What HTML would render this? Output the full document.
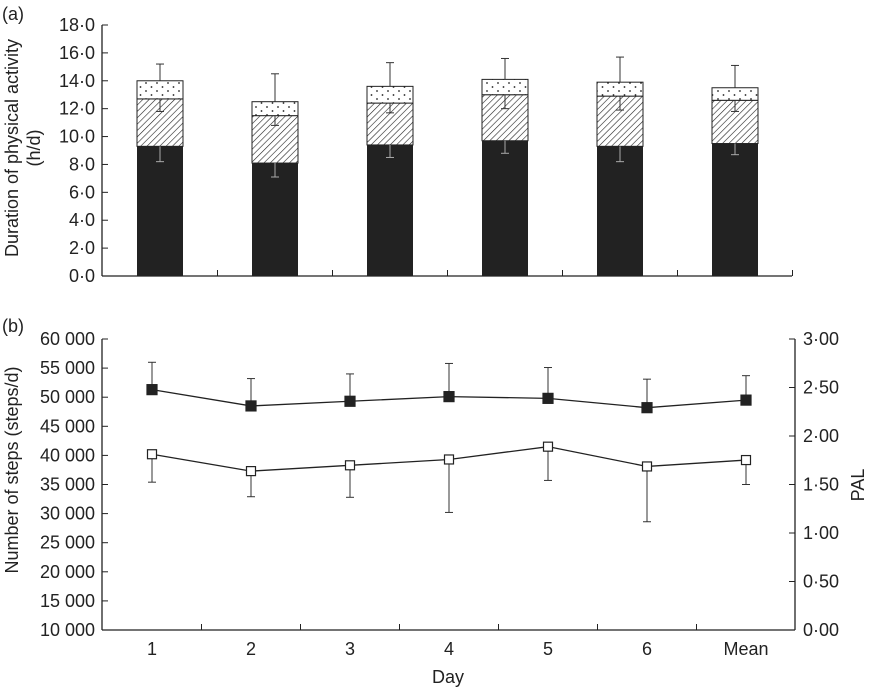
<!DOCTYPE html>
<html><head><meta charset="utf-8"><style>
body{margin:0;background:#fff}
svg text{font-family:"Liberation Sans",Arial,sans-serif;fill:#222}
</style></head><body>
<svg id="c" width="876" height="689" viewBox="0 0 876 689" xmlns="http://www.w3.org/2000/svg">
<defs>
<pattern id="hatch" width="4.5" height="4.5" patternUnits="userSpaceOnUse" patternTransform="rotate(45)"><rect width="4.5" height="4.5" fill="#fff"/><line x1="0" y1="0" x2="0" y2="4.5" stroke="#222" stroke-width="1.2"/></pattern>
<pattern id="dots" width="11" height="8" patternUnits="userSpaceOnUse"><rect width="11" height="8" fill="#fff"/><circle cx="3" cy="3" r="0.9" fill="#222"/><circle cx="8.5" cy="7" r="0.9" fill="#222"/></pattern>
</defs>
<g id="topg"></g><g id="botg"></g>
</svg>
<script>
const days=["1","2","3","4","5","6","Mean"];
const blackVals=[9.3,8.1,9.4,9.7,9.3,9.5];
const hatchTop=[12.7,11.5,12.4,13.0,12.9,12.6];
const dotTop=[14.0,12.5,13.6,14.1,13.9,13.5];
const blackErrLow=[8.2,7.1,8.5,8.8,8.2,8.7];
const hatchErrLow=[11.8,10.8,11.7,12.0,11.9,11.8];
const dotErrHigh=[15.2,14.5,15.3,15.6,15.7,15.1];
const topTicks=["0·0","2·0","4·0","6·0","8·0","10·0","12·0","14·0","16·0","18·0"];
const stepsFilled=[51300,48500,49300,50100,49800,48200,49500];
const stepsFilledErr=[56000,53200,54000,55800,55100,53100,53700];
const stepsOpen=[40200,37300,38300,39300,41500,38100,39200];
const stepsOpenErr=[35400,32900,32800,30200,35700,28600,35000];
const leftTicks=["10 000","15 000","20 000","25 000","30 000","35 000","40 000","45 000","50 000","55 000","60 000"];
const palTicks=["0·00","0·50","1·00","1·50","2·00","2·50","3·00"];

const NS="http://www.w3.org/2000/svg";
function mk(p,tag,a,txt){const e=document.createElementNS(NS,tag);for(const k in a)e.setAttribute(k,a[k]);if(txt!==undefined)e.textContent=txt;p.appendChild(e);return e;}
const topG=document.getElementById('topg'),botG=document.getElementById('botg');
const ty=v=>276-v*(251/18), tx=i=>160+i*115;
let e;
e=mk(topG,'line',{x1:102,y1:25,x2:102,y2:276,stroke:'#222','stroke-width':1.3});


e=mk(topG,'line',{x1:102,y1:276,x2:792,y2:276,stroke:'#222','stroke-width':1.3});


topTicks.forEach((t,i)=>{const y=ty(i*2);mk(topG,'line',{x1:102,y1:y,x2:108,y2:y,stroke:'#222'});
 e=mk(topG,'text',{x:95,y:y+6,'text-anchor':'end','font-size':18},t);
 
 });
for(let i=0;i<6;i++){mk(topG,'line',{x1:tx(i)+57.5,y1:276,x2:tx(i)+57.5,y2:270,stroke:'#222'});}
e=mk(topG,'text',{x:2,y:20,'font-size':18},'(a)');


e=mk(topG,'text',{transform:'translate(18,148) rotate(-90)','text-anchor':'middle','font-size':18},'Duration of physical activity');


e=mk(topG,'text',{transform:'translate(40,148) rotate(-90)','text-anchor':'middle','font-size':18},'(h/d)');


blackVals.forEach((b,i)=>{const x=tx(i)-23,w=46;
 e=mk(topG,'rect',{x:x,y:ty(b),width:w,height:276-ty(b),fill:'#222'});
 
 
 e=mk(topG,'rect',{x:x,y:ty(hatchTop[i]),width:w,height:ty(b)-ty(hatchTop[i]),fill:'url(#hatch)',stroke:'#222'});
 
 
 e=mk(topG,'rect',{x:x,y:ty(dotTop[i]),width:w,height:ty(hatchTop[i])-ty(dotTop[i]),fill:'url(#dots)',stroke:'#222'});
 
 
 const c=tx(i);
 [[b,blackErrLow[i],'#aaa'],[hatchTop[i],hatchErrLow[i],'#333'],[dotTop[i],dotErrHigh[i],'#333']].forEach(([a,z,col])=>{
  mk(topG,'line',{x1:c,y1:ty(a),x2:c,y2:ty(z),stroke:col});mk(topG,'line',{x1:c-4,y1:ty(z),x2:c+4,y2:ty(z),stroke:col});});
});
const by=v=>630-(v-10000)*(291/50000), bx=i=>152+i*99;
e=mk(botG,'line',{x1:102,y1:339,x2:102,y2:630,stroke:'#222','stroke-width':1.3});


e=mk(botG,'line',{x1:795,y1:339,x2:795,y2:630,stroke:'#222','stroke-width':1.3});


e=mk(botG,'line',{x1:102,y1:630,x2:795,y2:630,stroke:'#222','stroke-width':1.3});


leftTicks.forEach((t,i)=>{const y=by(10000+i*5000);mk(botG,'line',{x1:102,y1:y,x2:108,y2:y,stroke:'#222'});
 e=mk(botG,'text',{x:95,y:y+6,'text-anchor':'end','font-size':18},t);
 
 });
palTicks.forEach((t,i)=>{const y=630-i*291/6;mk(botG,'line',{x1:789,y1:y,x2:795,y2:y,stroke:'#222'});
 e=mk(botG,'text',{x:803,y:y+6,'font-size':18},t);
 
 });
days.forEach((d,i)=>{if(i<6)mk(botG,'line',{x1:bx(i)+49.5,y1:630,x2:bx(i)+49.5,y2:624,stroke:'#222'});
 e=mk(botG,'text',{x:bx(i),y:655,'text-anchor':'middle','font-size':18},d);
 
 });
e=mk(botG,'text',{x:448,y:683,'text-anchor':'middle','font-size':18},'Day');


e=mk(botG,'text',{x:2,y:332,'font-size':18},'(b)');


e=mk(botG,'text',{transform:'translate(18,470) rotate(-90)','text-anchor':'middle','font-size':18},'Number of steps (steps/d)');


e=mk(botG,'text',{transform:'translate(864,485) rotate(-90)','text-anchor':'middle','font-size':18},'PAL');


function series(vals,errs,filled,name){
 vals.forEach((v,i)=>{const c=bx(i);mk(botG,'line',{x1:c,y1:by(v),x2:c,y2:by(errs[i]),stroke:'#333'});mk(botG,'line',{x1:c-4,y1:by(errs[i]),x2:c+4,y2:by(errs[i]),stroke:'#333'});});
 e=mk(botG,'polyline',{points:vals.map((v,i)=>bx(i)+','+by(v)).join(' '),fill:'none',stroke:'#222','stroke-width':1.3});
 
 
 vals.forEach((v,i)=>{const s=filled?10:9;e=mk(botG,'rect',{x:bx(i)-s/2,y:by(v)-s/2,width:s,height:s,fill:filled?'#222':'#fff',stroke:'#222','stroke-width':1.2});
  
  });
}
series(stepsFilled,stepsFilledErr,true,'filled-series');
series(stepsOpen,stepsOpenErr,false,'open-series');
</script>
</body></html>
